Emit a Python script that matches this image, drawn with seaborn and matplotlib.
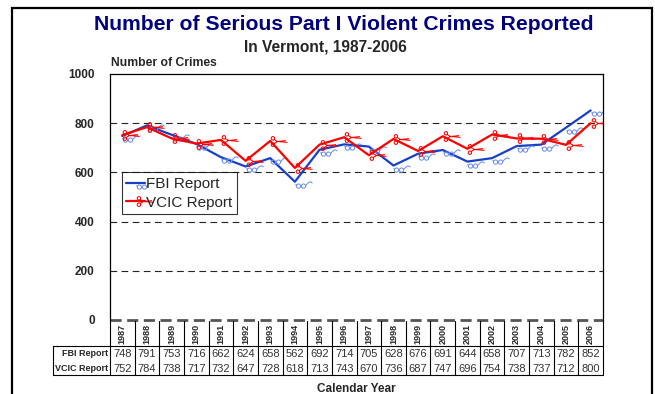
import numpy as np
import pandas as pd
import matplotlib
matplotlib.use("Agg")
import matplotlib.pyplot as plt
import seaborn as sns
from matplotlib.path import Path
from matplotlib.markers import MarkerStyle
from matplotlib.patches import Rectangle
from matplotlib.lines import Line2D
import matplotlib.transforms as mtransforms

years = [str(y) for y in range(1987, 2007)]
fbi = [748, 791, 753, 716, 662, 624, 658, 562, 692, 714, 705, 628, 676, 691, 644, 658, 707, 713, 782, 852]
vcic = [752, 784, 738, 717, 732, 647, 728, 618, 713, 743, 670, 736, 687, 747, 696, 754, 738, 737, 712, 800]
series_names = ["FBI Report", "VCIC Report"]
y_ticks = [0, 200, 400, 600, 800, 1000]

sns.set_style("white")
plt.rcParams["font.family"] = ["Liberation Sans", "DejaVu Sans"]

df = pd.DataFrame({"idx": np.arange(len(years)), "year": years, "FBI": fbi, "VCIC": vcic})

# custom marker glyphs (glasses & scissors) drawn to the right of the point, in px-like units
def glasses_path():
    c1 = Path.circle((3.0, -3.6), 2.1)
    c2 = Path.circle((8.0, -3.6), 2.1)
    arms = Path([(0.9, -3.4), (0.2, -1.8),
                 (5.1, -3.4), (5.9, -3.4),
                 (10.1, -3.2), (12.0, -1.0), (13.5, 0.3), (15.2, 0.6), (17.0, -0.6)],
                [Path.MOVETO, Path.LINETO,
                 Path.MOVETO, Path.LINETO,
                 Path.MOVETO, Path.LINETO, Path.LINETO, Path.LINETO, Path.LINETO])
    return Path.make_compound_path(c1, c2, arms)

def scissors_path():
    h1 = Path.circle((2.4, 3.2), 1.7)
    h2 = Path.circle((2.4, -3.2), 1.7)
    blades = Path([(3.6, 2.0), (7.0, 0.0), (17.0, -0.9),
                   (3.6, -2.0), (7.0, 0.0), (15.5, 0.9)],
                  [Path.MOVETO, Path.LINETO, Path.LINETO,
                   Path.MOVETO, Path.LINETO, Path.LINETO])
    return Path.make_compound_path(h1, h2, blades)

fbi_line = "#1740C8"
fbi_mark = "#6F90EE"
vcic_col = "#FF0000"
msize = 2 * 17 * 0.72

fig = plt.figure(figsize=(6.55, 3.94), dpi=100)
W, H = 655, 394
L, R, T, B = 110, 603, 74, 320
ax = fig.add_axes([L / W, 1 - B / H, (R - L) / W, (B - T) / H])

sns.lineplot(data=df, x="idx", y="FBI", ax=ax, color=fbi_line, lw=1.6,
             marker=MarkerStyle(glasses_path()), markersize=msize,
             markerfacecolor="none", markeredgecolor=fbi_mark, markeredgewidth=0.75)
sns.lineplot(data=df, x="idx", y="VCIC", ax=ax, color=vcic_col, lw=1.6,
             marker=MarkerStyle(scissors_path()), markersize=msize,
             markerfacecolor="none", markeredgecolor=vcic_col, markeredgewidth=0.75)

ax.set_xlim(-0.5, len(years) - 0.5)
ax.set_ylim(0, 1000)
ax.set_yticks(y_ticks)
ax.set_yticklabels([str(t) for t in y_ticks], fontsize=8.5, fontweight="bold")
ax.tick_params(axis="y", length=0, pad=11)
ax.set_xticks([])
ax.set_xlabel("")
ax.set_ylabel("")
for t in y_ticks[1:-1]:
    ax.axhline(t, color="#222222", lw=0.8, ls=(0, (6, 4)), zorder=0)
ax.axhline(0, color="#555555", lw=2.0, ls=(0, (4, 2)), zorder=0, clip_on=False)
ax.spines["bottom"].set_visible(False)
for s in ["left", "right", "top"]:
    ax.spines[s].set_color("black")
    ax.spines[s].set_linewidth(0.9)

# legend
handles = [Line2D([], [], color=fbi_line, lw=1.6, marker=MarkerStyle(glasses_path()), markersize=msize,
                  markerfacecolor="none", markeredgecolor=fbi_mark, markeredgewidth=0.75),
           Line2D([], [], color=vcic_col, lw=1.6, marker=MarkerStyle(scissors_path()), markersize=msize,
                  markerfacecolor="none", markeredgecolor=vcic_col, markeredgewidth=0.75)]
leg = ax.legend(handles, series_names, loc="upper left", bbox_to_anchor=(0.024, 0.6),
                fontsize=11, frameon=True, fancybox=False, edgecolor="black",
                handlelength=1.2, handletextpad=0.1, borderpad=0.3, labelspacing=0.3,
                borderaxespad=0, markerfirst=True)
leg.get_frame().set_linewidth(0.8)

# data table
trans = mtransforms.blended_transform_factory(ax.transData, ax.transAxes)
ah = B - T
def yf(px):
    return (B - px) / ah
y_years_bot, y_fbi_bot, y_vcic_bot = 346, 361, 375
n = len(years)
for i in range(n + 1):
    ax.plot([i - 0.5, i - 0.5], [yf(B + 1), yf(y_vcic_bot)], transform=trans,
            color="black", lw=0.8, clip_on=False)
for i, yr in enumerate(years):
    ax.text(i, yf(y_years_bot - 2), yr, transform=trans, rotation=90, ha="center", va="bottom",
            fontsize=6.5, fontweight="bold", clip_on=False)
    ax.text(i, yf((y_years_bot + y_fbi_bot) / 2 + 0.5), str(fbi[i]), transform=trans,
            ha="center", va="center", fontsize=8, color="#333333", clip_on=False)
    ax.text(i, yf((y_fbi_bot + y_vcic_bot) / 2 + 0.5), str(vcic[i]), transform=trans,
            ha="center", va="center", fontsize=8, color="#333333", clip_on=False)
fx = lambda px: px / W
fy = lambda py: 1 - py / H
for yy in (y_years_bot, y_vcic_bot):
    fig.add_artist(Line2D([fx(53), fx(R)], [fy(yy), fy(yy)], color="black", lw=0.8))
fig.add_artist(Line2D([fx(53), fx(53)], [fy(y_years_bot), fy(y_vcic_bot)], color="black", lw=0.8))
fig.text(fx(L - 2), fy((y_years_bot + y_fbi_bot) / 2 + 0.5), series_names[0], ha="right", va="center",
         fontsize=6.5, fontweight="bold")
fig.text(fx(L - 2), fy((y_fbi_bot + y_vcic_bot) / 2 + 0.5), series_names[1], ha="right", va="center",
         fontsize=6.5, fontweight="bold")

# titles
fig.text(fx(344), fy(24), "Number of Serious Part I Violent Crimes Reported", ha="center", va="center",
         fontsize=15.2, fontweight="bold", color="#000080")
fig.text(fx(325), fy(46.5), "In Vermont, 1987-2006", ha="center", va="center",
         fontsize=11.2, fontweight="bold")
fig.text(fx(111), fy(62.5), "Number of Crimes", ha="left", va="center", fontsize=8.7, fontweight="bold")
fig.text(fx(356), fy(389), "Calendar Year", ha="center", va="center", fontsize=8.5, fontweight="bold")

# outer frame
fig.add_artist(Rectangle((fx(12), fy(400)), fx(652) - fx(12), fy(8) - fy(400), fill=False,
                         edgecolor="black", lw=1.6, transform=fig.transFigure))

fig.savefig("out.png", dpi=100)
